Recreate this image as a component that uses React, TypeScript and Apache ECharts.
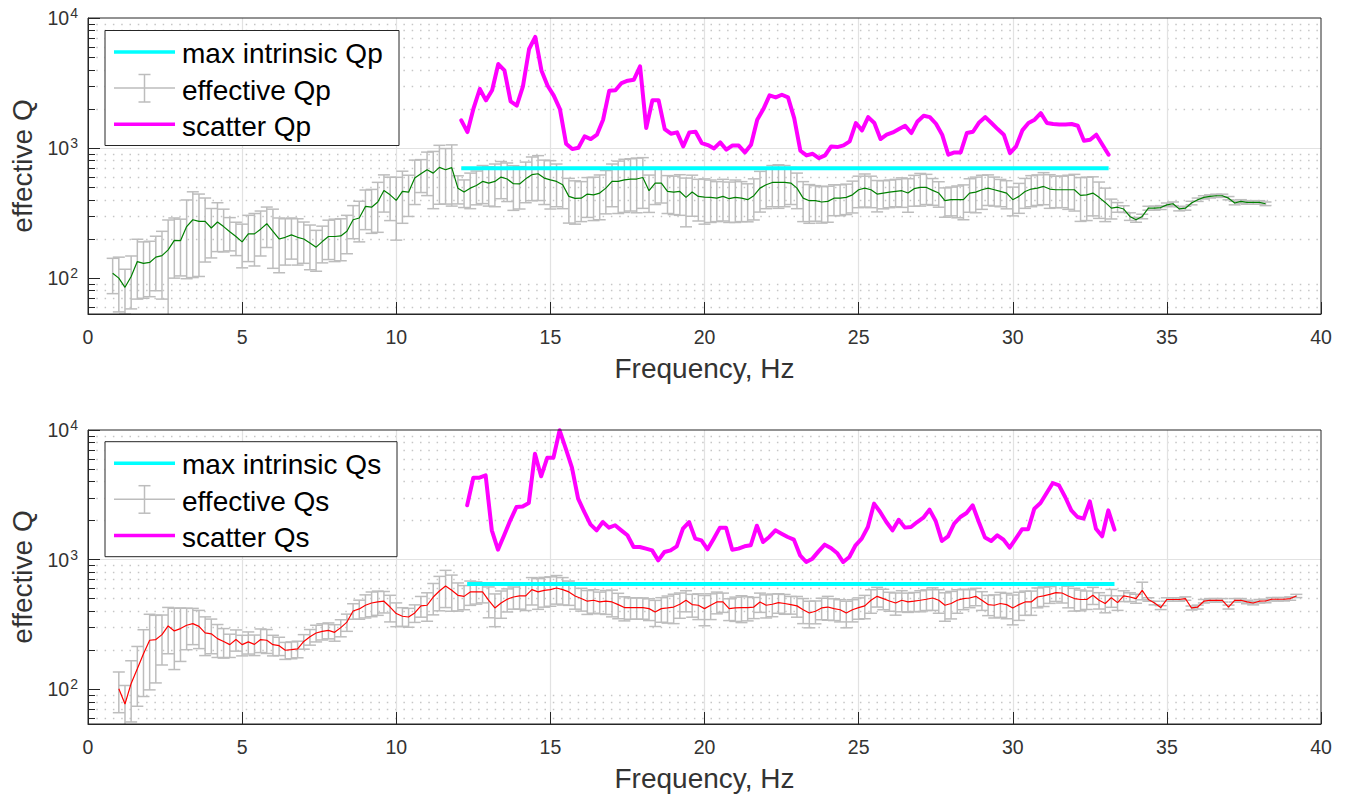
import React, { useEffect, useRef } from 'react';
import * as echarts from 'echarts';

const FONT = '"Liberation Sans", Arial, Helvetica, sans-serif';
const AXC = '#262626';
const TXT = '#333333';

// ---------- Top panel: P waves ----------
const effQpStart = 0.8;
const effQpStep = 0.2;
const effQp = [
  109, 100, 85, 103, 134, 130, 132, 145, 149, 165,
  195, 194, 249, 281, 273, 273, 243, 270, 249, 227,
  209, 190, 219, 219, 238, 262, 229, 200, 206, 215,
  206, 200, 186, 173, 191, 209, 209, 211, 229, 281,
  290, 356, 351, 385, 472, 437, 396, 464, 458, 588,
  635, 681, 642, 710, 681, 708,
  492, 459, 492, 516, 554, 538, 554, 598, 578, 532,
  530, 580, 624, 635, 588, 570, 554, 522, 425, 410,
  412, 443, 437, 451, 492, 554, 554, 570, 578, 578,
  594, 470, 538, 538, 464, 458, 464, 418, 459, 425,
  420, 418, 412, 425, 408, 418, 412, 401, 430, 492,
  522, 544, 544, 544, 538, 492, 412, 394, 394, 385,
  389, 412, 412, 418, 437,
  478, 492, 478, 443, 451, 458, 464, 470, 451, 487,
  498, 498, 473, 451, 394, 401, 401, 401, 451, 458,
  478, 492, 478, 464, 451, 401, 425, 464, 484, 492,
  507, 484, 478, 478, 478, 478, 433, 437,
  451, 418, 382, 345, 351, 340, 298, 281, 298, 345,
  345, 349, 366, 373, 341, 345, 378, 401, 418, 425,
  430, 430, 412, 378, 389, 382, 382, 382, 373,
];
const effQpErr = [
  33, 45, 32, 45, 65, 60, 60, 65, 80, 115,
  95, 90, 150, 180, 170, 140, 100, 110, 90, 65,
  60, 70, 85, 95, 90, 90, 110, 90, 80, 75,
  80, 70, 70, 60, 60, 70, 75, 75, 75, 80,
  100, 120, 130, 160, 150, 160, 200, 200, 160, 220,
  180, 250, 300, 340, 310, 350, 120, 110, 150, 150,
  180, 180, 200, 190, 190, 200, 190, 200, 230, 240,
  220, 230, 200, 180, 160, 150, 140, 150, 160, 170,
  180, 200, 240, 250, 250, 260, 250, 150, 170, 160,
  150, 150, 160, 170, 160, 150, 160, 150, 140, 150,
  140, 150, 140, 130, 150, 170, 180, 190, 200, 190,
  170, 150, 140, 130, 120, 120, 120, 110, 110, 110,
  120, 130, 140, 130, 120, 110, 110, 110, 120, 130,
  130, 140, 130, 110, 100, 100, 100, 110, 120, 130,
  140, 140, 130, 120, 110, 110, 100, 110, 120, 130,
  130, 140, 140, 130, 130, 140, 150, 160, 160, 150,
  130, 110, 60, 30, 20, 20, 12, 12, 12, 12,
  12, 12, 12, 12, 12, 12, 12, 12, 12, 12,
  12, 12, 12, 12, 12, 12, 12, 12,
];
const scatQpStart = 12.11;
const scatQpStep = 0.2;
const scatQp = [
  1633, 1327, 2030, 2845, 2327, 2780, 4425, 3955, 2285, 2120,
  2980, 5780, 7150, 3950, 3015, 2530, 1995, 1080, 982, 1006,
  1230, 1173, 1267, 1652, 2762, 2780, 3162, 3296, 3357, 4250,
  1425, 2330, 2330, 1400, 1290, 1320, 1030, 1320, 1335, 1093,
  1054, 994, 1106, 971, 1048, 1045, 926, 1061, 1652, 1995,
  2540, 2453, 2570, 2453, 1700, 954, 878, 904, 838, 878,
  1030, 1018, 1048, 1126,
  1557, 1367, 1730, 1557, 1173, 1267, 1320, 1400, 1485, 1304,
  1603, 1773, 1730, 1538, 1267, 889, 926, 926, 1304, 1335,
  1575, 1730, 1557, 1400, 1267, 915, 1030, 1367, 1557, 1652,
  1857, 1557, 1530, 1520, 1520, 1530, 1485, 1139, 1159, 1267,
  1061, 889,
];
const maxIntrQp = 700;
const maxIntrQpRange = [12.11, 33.11];

// ---------- Bottom panel: S waves ----------
const effQsStart = 1.0;
const effQsStep = 0.2;
const effQs = [
  101, 77, 111, 144, 188, 239, 242, 264, 308, 282,
  294, 312, 321, 306, 272, 268, 246, 234, 221, 242,
  221, 232, 222, 242, 239, 221, 217, 200, 202, 205,
  234, 254, 272, 280, 285, 275, 299, 330, 402, 417,
  445, 463, 472, 478, 431, 384, 366, 361, 388, 440,
  445, 515, 573, 627,
  580, 531, 521, 564, 564, 564, 486, 424, 463, 495,
  515, 525, 525, 587, 564, 580, 587, 604, 587, 564,
  525, 501, 478, 486, 472, 478, 472, 450, 427, 427,
  427, 427, 419, 395, 419, 424, 431, 453, 486, 450,
  445, 419, 445, 472, 472, 419, 424, 427, 427, 431,
  472, 445, 453, 466, 459, 450, 440, 411, 388, 400,
  424, 431, 419, 411, 388, 411,
  427, 440, 486, 521, 501, 480, 463, 486, 472, 478,
  486, 495, 506, 486, 445, 459, 486, 501, 506, 521,
  486, 450, 445, 459, 450, 424, 450, 472, 472, 515,
  525, 540, 556, 553, 525, 501, 493, 493, 531, 486,
  459, 509, 466, 525, 515, 501, 580, 493, 463, 427,
  493, 493, 493, 501, 424, 431, 478, 486, 486, 486,
  431, 486, 486, 472, 463, 478, 480, 495, 495, 495,
  501, 525,
];
const effQsErr = [
  35, 30, 55, 70, 100, 140, 130, 110, 120, 140,
  130, 110, 100, 100, 90, 80, 70, 60, 45, 45,
  40, 45, 40, 50, 50, 40, 35, 30, 30, 30,
  30, 35, 40, 40, 40, 40, 45, 50, 55, 70,
  90, 100, 100, 90, 100, 80, 60, 60, 60, 80,
  110, 140, 170, 200, 180, 130, 110, 120, 110, 100,
  130, 120, 110, 100, 100, 110, 120, 140, 150, 150,
  150, 150, 140, 120, 110, 100, 100, 100, 90, 100,
  110, 100, 90, 80, 80, 80, 80, 90, 90, 100,
  110, 100, 90, 90, 100, 110, 100, 90, 80, 80,
  90, 100, 90, 80, 80, 90, 90, 80, 80, 70,
  80, 90, 90, 80, 80, 90, 80, 80, 90, 80,
  80, 90, 100, 90, 90, 80, 90, 90, 80, 80,
  90, 90, 100, 100, 110, 110, 100, 90, 80, 80,
  80, 80, 90, 100, 100, 110, 110, 100, 100, 90,
  90, 80, 80, 90, 100, 100, 90, 80, 80, 70,
  70, 80, 60, 50, 40, 40, 90, 15, 15, 15,
  15, 15, 15, 15, 15, 15, 15, 15, 15, 15,
  15, 15, 15, 15, 15, 15, 15, 15, 15, 15,
  15, 15,
];
const scatQsStart = 12.3;
const scatQsStep = 0.2;
const scatQs = [
  2625, 4285, 4285, 4467, 1683, 1194, 1542, 2010, 2545, 2570,
  2735, 6560, 4395, 6120, 6120, 9950, 7180, 5130, 2953, 2333,
  1871, 1683, 1950, 1766, 1842, 1683, 1542, 1253, 1253, 1216,
  1180, 988, 1146, 1180, 1267, 1733, 1950, 1452, 1409, 1202,
  1452, 1766, 1760, 1194, 1216, 1267, 1291, 1828, 1368, 1496,
  1683, 1586, 1496, 1427, 1080, 959, 1018, 1159, 1305, 1231,
  1126, 959, 1049,
  1291, 1452, 1786, 2704, 2333, 1950, 1683, 2032, 1766, 1786,
  1950, 2108, 2432, 1986, 1393, 1514, 1896, 2133, 2291, 2625,
  1950, 1479, 1393, 1542, 1427, 1238, 1452, 1715, 1715, 2472,
  2735, 3267, 3901, 3741, 3041, 2400, 2133, 2070, 2818, 1733,
  1514, 2400, 1702,
];
const maxIntrQs = 650;
const maxIntrQsRange = [12.3, 33.3];

// ---------- axes ----------
const xTickStep = 5;
const xMin = 0;
const xMax = 40;
const yMajorValues = [100, 1000, 10000];
const yMinorValues = [60, 70, 80, 90, 200, 300, 400, 500, 600, 700, 800, 900,
  2000, 3000, 4000, 5000, 6000, 7000, 8000, 9000];
const yMaxValue = 10000;
const yMinTop = 53;
const yMinBottom = 54;

const L = (v: number) => Math.log10(v);

const GRIDS = [
  { left: 88, top: 18, width: 1233, height: 296 },
  { left: 88, top: 430, width: 1233, height: 294 },
];

function lineData(start: number, step: number, vals: number[]) {
  return vals.map((v, i) => [+(start + step * i).toFixed(3), L(v)]);
}
function errData(start: number, step: number, vals: number[], errs: number[]) {
  return vals.map((v, i) => [
    +(start + step * i).toFixed(3),
    L(v + errs[i]),
    L(Math.max(v - errs[i], 1)),
  ]);
}

const CAP = 6;
const errRender = (params: any, api: any) => {
  const x = api.value(0);
  const a = api.coord([x, api.value(1)]);
  const b = api.coord([x, api.value(2)]);
  const st = { stroke: '#bdbdbd', lineWidth: 1.5 };
  return {
    type: 'group',
    children: [
      { type: 'line', shape: { x1: a[0], y1: a[1], x2: b[0], y2: b[1] }, style: st },
      { type: 'line', shape: { x1: a[0] - CAP, y1: a[1], x2: a[0] + CAP, y2: a[1] }, style: st },
      { type: 'line', shape: { x1: b[0] - CAP, y1: b[1], x2: b[0] + CAP, y2: b[1] }, style: st },
    ],
  };
};

function xAxisFor(gi: number) {
  return {
    type: 'value', gridIndex: gi, min: xMin, max: xMax, interval: xTickStep,
    axisLine: { show: true, onZero: false, lineStyle: { color: AXC, width: 1 } },
    axisTick: { show: true, inside: true, length: 12, lineStyle: { color: AXC } },
    axisLabel: { color: TXT, fontSize: 19.5, fontFamily: FONT, margin: 13 },
    splitLine: { show: true, showMinLine: false, showMaxLine: false, lineStyle: { color: '#e2e2e2', width: 1.2 } },
    name: 'Frequency, Hz', nameLocation: 'middle', nameGap: 40,
    nameTextStyle: { color: TXT, fontSize: 28, fontFamily: FONT },
  };
}
function yMainFor(gi: number, minV: number) {
  const major = yMajorValues.map(L);
  return {
    type: 'value', gridIndex: gi, min: L(minV), max: L(yMaxValue), position: 'left',
    axisLine: { show: true, onZero: false, lineStyle: { color: AXC, width: 1 } },
    axisTick: { show: true, inside: true, length: 12, customValues: major, lineStyle: { color: AXC } },
    axisLabel: {
      customValues: major, margin: 10,
      formatter: (v: number) => '{b|10}{s|' + Math.round(v) + '}',
      rich: {
        b: { fontSize: 19.5, fontFamily: FONT, color: TXT, lineHeight: 20 },
        s: { fontSize: 14, fontFamily: FONT, color: TXT, lineHeight: 14, padding: [0, 0, 10, 1] },
      },
    },
    splitLine: { show: true, showMinLine: false, showMaxLine: false, lineStyle: { color: '#e2e2e2', width: 1.2 } },
    name: 'effective Q', nameLocation: 'middle', nameGap: 48,
    nameTextStyle: { color: TXT, fontSize: 28, fontFamily: FONT },
  };
}
function yMinorFor(gi: number, minV: number) {
  return {
    type: 'value', gridIndex: gi, min: L(minV), max: L(yMaxValue), position: 'left',
    axisLine: { show: false },
    axisLabel: { show: false },
    axisTick: { show: true, inside: true, length: 7, customValues: yMinorValues.map(L), lineStyle: { color: AXC } },
    splitLine: { show: true, lineStyle: { color: '#c6c6c6', width: 1.3, type: [1.5, 6.8] } },
  };
}

function panelSeries(gi: number, o: {
  effStart: number; effStep: number; eff: number[]; err: number[]; effColor: string;
  scStart: number; scStep: number; sc: number[]; maxQ: number; maxRange: number[];
}) {
  const xi = gi, yi = gi * 2;
  return [
    {
      type: 'custom', name: 'err' + gi, xAxisIndex: xi, yAxisIndex: yi, clip: true, silent: true, z: 2,
      renderItem: errRender,
      data: errData(o.effStart, o.effStep, o.eff, o.err),
    },
    {
      type: 'line', xAxisIndex: xi, yAxisIndex: yi, symbol: 'none', silent: true, z: 3,
      lineStyle: { color: o.effColor, width: 1.2 },
      data: lineData(o.effStart, o.effStep, o.eff),
    },
    {
      type: 'line', xAxisIndex: xi, yAxisIndex: yi, symbol: 'none', silent: true, z: 4,
      lineStyle: { color: '#00ffff', width: 4 },
      data: o.maxRange.map((f) => [f, L(o.maxQ)]),
    },
    {
      type: 'line', xAxisIndex: xi, yAxisIndex: yi, symbol: 'none', silent: true, z: 5,
      lineStyle: { color: '#ff00ff', width: 4, join: 'round', cap: 'round' },
      data: lineData(o.scStart, o.scStep, o.sc),
    },
  ];
}

function legendGraphics(top: number, width: number, labels: string[]) {
  const tx = 182;
  const t = (y: number, s: string) => ({
    type: 'text', x: tx, y, z: 101,
    style: { text: s, fontSize: 28, fontFamily: FONT, fill: '#000', verticalAlign: 'middle', align: 'left' },
  });
  const gray = { stroke: '#bdbdbd', lineWidth: 1.5 };
  return [
    { type: 'rect', z: 100, shape: { x: 105, y: top, width, height: 115 }, style: { fill: '#fff', stroke: AXC, lineWidth: 1 } },
    { type: 'line', z: 101, shape: { x1: 114, y1: top + 21.5, x2: 175, y2: top + 21.5 }, style: { stroke: '#00ffff', lineWidth: 3.5 } },
    { type: 'line', z: 101, shape: { x1: 114, y1: top + 57.5, x2: 175, y2: top + 57.5 }, style: gray },
    { type: 'line', z: 101, shape: { x1: 144.5, y1: top + 44, x2: 144.5, y2: top + 71.5 }, style: gray },
    { type: 'line', z: 101, shape: { x1: 138.5, y1: top + 44, x2: 150.5, y2: top + 44 }, style: gray },
    { type: 'line', z: 101, shape: { x1: 138.5, y1: top + 71.5, x2: 150.5, y2: top + 71.5 }, style: gray },
    { type: 'line', z: 101, shape: { x1: 114, y1: top + 93.8, x2: 175, y2: top + 93.8 }, style: { stroke: '#ff00ff', lineWidth: 3.5 } },
    t(top + 23, labels[0]),
    t(top + 59.5, labels[1]),
    t(top + 95.5, labels[2]),
  ];
}

function buildOption() {
  const borders = GRIDS.map((g) => ({
    type: 'rect', z: 50, silent: true,
    shape: { x: g.left, y: g.top, width: g.width, height: g.height },
    style: { fill: 'none', stroke: AXC, lineWidth: 1 },
  }));
  return {
    animation: false,
    backgroundColor: '#ffffff',
    grid: GRIDS.map((g) => ({ ...g, containLabel: false })),
    xAxis: [xAxisFor(0), xAxisFor(1)],
    yAxis: [yMainFor(0, yMinTop), yMinorFor(0, yMinTop), yMainFor(1, yMinBottom), yMinorFor(1, yMinBottom)],
    series: [
      ...panelSeries(0, {
        effStart: effQpStart, effStep: effQpStep, eff: effQp, err: effQpErr, effColor: '#008000',
        scStart: scatQpStart, scStep: scatQpStep, sc: scatQp, maxQ: maxIntrQp, maxRange: maxIntrQpRange,
      }),
      ...panelSeries(1, {
        effStart: effQsStart, effStep: effQsStep, eff: effQs, err: effQsErr, effColor: '#ff0000',
        scStart: scatQsStart, scStep: scatQsStep, sc: scatQs, maxQ: maxIntrQs, maxRange: maxIntrQsRange,
      }),
    ],
    graphic: [
      ...borders,
      ...legendGraphics(30.5, 294, ['max intrinsic Qp', 'effective Qp', 'scatter Qp']),
      ...legendGraphics(441.7, 292, ['max intrinsic Qs', 'effective Qs', 'scatter Qs']),
    ],
  };
}

export default function App() {
  const ref = useRef<HTMLDivElement>(null);
  useEffect(() => {
    if (!ref.current) return;
    const chart = echarts.init(ref.current, null, { renderer: 'svg' });
    chart.setOption(buildOption() as any);
    return () => chart.dispose();
  }, []);
  return (
    <div
      ref={ref}
      style={{ position: 'fixed', left: 0, top: 0, width: 1346, height: 796, background: '#fff' }}
    />
  );
}
